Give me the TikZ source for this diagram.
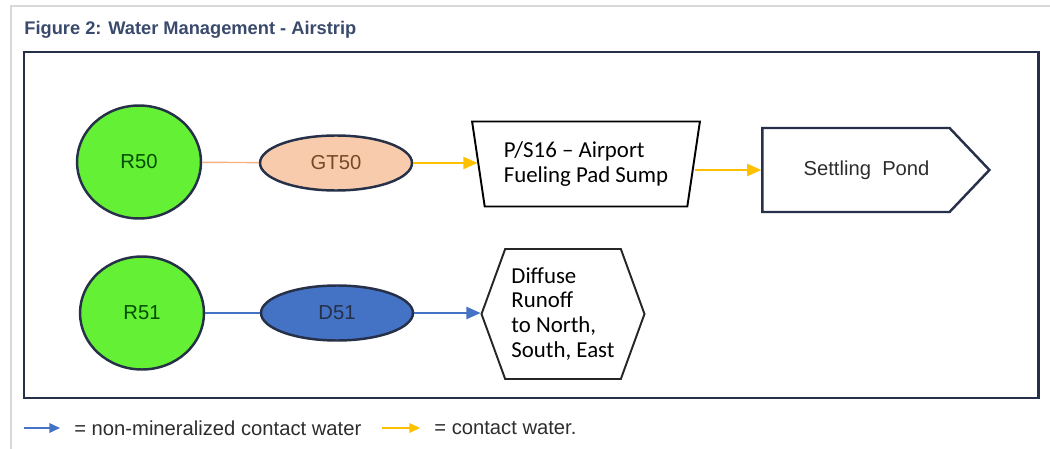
\documentclass[tikz,border=0pt]{standalone}
\usepackage{fontspec}
\setmainfont{Liberation Sans}
\newfontfamily\calibri{Carlito}
\usetikzlibrary{shapes.geometric,shapes.symbols,arrows.meta}
\definecolor{navy}{RGB}{38,48,72}
\definecolor{rgreen}{RGB}{100,240,52}
\definecolor{peach}{RGB}{248,203,173}
\definecolor{dblue}{RGB}{68,114,196}
\definecolor{ylw}{RGB}{255,192,0}
\definecolor{orng}{RGB}{244,177,131}
\definecolor{titleblue}{RGB}{58,74,108}
\definecolor{txt}{RGB}{45,45,45}

\begin{document}
\begin{tikzpicture}[x=0.02cm,y=-0.02cm,
    every node/.style={font=\fontsize{11.5}{13}\selectfont,text=txt},
    basin/.style={ellipse,draw=navy,line width=1.4pt,fill=rgreen,
        minimum width=2.48cm,minimum height=2.26cm,text=green!30!black},
    pit/.style={ellipse,draw=navy,line width=1.4pt,
        minimum width=3.04cm,minimum height=1.1cm},
    cal/.style={font=\calibri\fontsize{13}{14.2}\selectfont,align=left,text=black},
    flow/.style={line width=0.8pt,-{Triangle[length=8pt,width=7pt]}},
    legflow/.style={line width=0.8pt,-{Triangle[length=6pt,width=5.5pt]}}]
  \useasboundingbox (0,0) rectangle (1050,449);
  \draw[black!15,line width=0.6pt] (11,449) -- (11,6) -- (1050,6);
  \node[anchor=base west,inner sep=0,text=titleblue,
        font=\bfseries\fontsize{10.4}{12}\selectfont] (title) at (24,35)
        {Figure 2: Water Management - Airstrip};
  \draw[navy,line width=1.7pt] (24,52) rectangle (1038,398);

  % upper row
  \node[basin] (r50) at (139,162) {R50};
  \node[pit,fill=peach,text=brown!60!black] (gt50) at (336,163) {GT50};
  \node[cal,trapezium,draw=black,line width=1.1pt,shape border rotate=180,
        trapezium angle=79,trapezium stretches=true,
        minimum width=4.56cm,minimum height=1.7cm] (p16) at (586,164)
        {P/S16 – Airport\\Fueling Pad Sump};
  \node[signal,signal to=east,signal from=nowhere,signal pointer angle=93,
        draw=navy,line width=1.4pt,minimum width=4.54cm,minimum height=1.68cm]
        (pond) at (856,170) {\hspace*{12pt}Settling\ \ Pond};

  % lower row
  \node[basin] (r51) at (142,313) {R51};
  \node[pit,fill=dblue,text=navy] (d51) at (337,313) {D51};
  \node[cal,signal,signal to=west and east,signal from=nowhere,
        signal pointer angle=140,draw=black!85,line width=1.1pt,inner sep=0,
        minimum width=3.26cm,minimum height=2.6cm] (runoff) at (563,314)
        {Diffuse\\Runoff\\to North,\\South, East};

  \draw[orng,line width=0.8pt] (r50) -- (gt50);
  \draw[flow,ylw] (gt50.east) -- (gt50.east -| p16.west);
  \draw[flow,ylw] (p16.east |- pond.west) -- (pond.west);
  \draw[dblue,line width=0.8pt] (r51) -- (d51);
  \draw[flow,dblue] (d51.east) -- (d51.east -| runoff.west);

  % legend
  \coordinate (lbs) at (24,428);
  \coordinate (lys) at (382,428);
  \node[anchor=west,inner sep=0] (lgblue) at (74,428) {= non-mineralized contact water};
  \node[anchor=west,inner sep=0] (lgylw) at (434,428) {= contact water.};
  \draw[legflow,dblue,shorten >=8pt] (lbs) -- (lbs -| lgblue.west);
  \draw[legflow,ylw,shorten >=8pt] (lys) -- (lys -| lgylw.west);
\end{tikzpicture}
\end{document}
